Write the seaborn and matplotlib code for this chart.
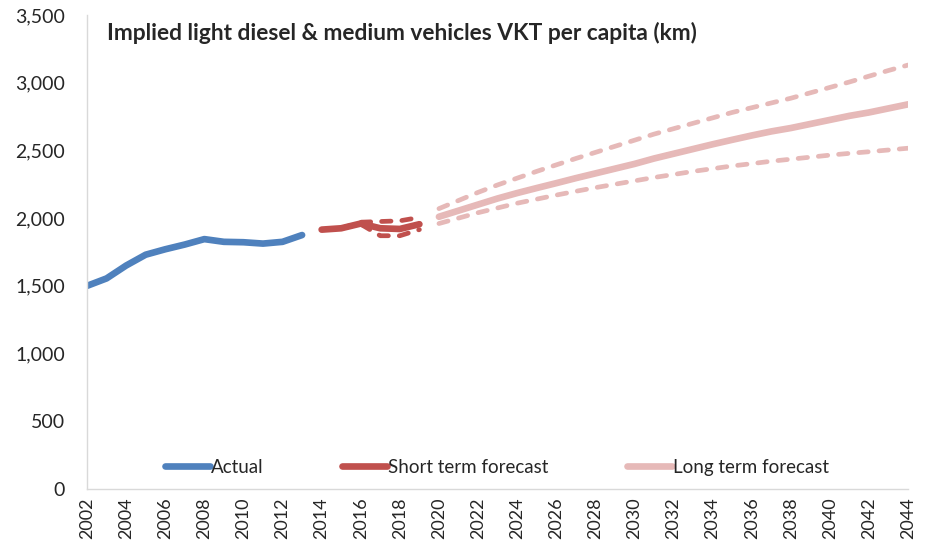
import matplotlib
matplotlib.use("Agg")
import matplotlib.pyplot as plt
import matplotlib.ticker as mticker
import seaborn as sns
import pandas as pd

# data
actual_years = list(range(2002, 2014))
actual_vkt = [1500, 1555, 1650, 1730, 1770, 1805, 1845, 1825, 1822, 1812, 1825, 1875]

short_years = list(range(2014, 2020))
short_mid = [1915, 1925, 1960, 1925, 1920, 1955]
short_high = [1915, 1925, 1970, 1975, 1980, 2005]
short_low = [1915, 1925, 1955, 1870, 1870, 1915]

long_years = list(range(2020, 2045))
long_mid = [2010, 2055, 2100, 2145, 2185, 2222, 2258, 2295, 2330, 2365, 2400, 2440, 2475,
            2510, 2545, 2578, 2610, 2640, 2665, 2695, 2725, 2755, 2780, 2810, 2840]
long_high = [2070, 2130, 2190, 2245, 2295, 2345, 2393, 2440, 2485, 2530, 2575, 2620, 2660,
             2700, 2740, 2780, 2815, 2850, 2885, 2925, 2965, 3005, 3048, 3090, 3130]
long_low = [1960, 2000, 2040, 2075, 2110, 2140, 2170, 2198, 2225, 2250, 2275, 2300, 2322,
            2345, 2365, 2385, 2402, 2420, 2435, 2450, 2465, 2478, 2490, 2503, 2516]

tick_years = list(range(2002, 2045, 2))

BLUE = "#4F81BD"
RED = "#C0504D"
PINK = "#E6B9B8"

sns.set_style("white")
plt.rcParams["font.family"] = ["Lato", "DejaVu Sans"]

fig = plt.figure(figsize=(9.46, 5.52), dpi=100)
ax = fig.add_axes([0.092, 0.114, 0.868, 0.859])

dash = (0, (2.0, 2.3))
solid_lw = 4.8
dash_lw = 3.4

sns.lineplot(x=actual_years, y=actual_vkt, color=BLUE, linewidth=solid_lw,
             solid_capstyle="round", label="Actual", ax=ax)

sns.lineplot(x=short_years, y=short_high, color=RED, linewidth=dash_lw,
             linestyle=dash, dash_capstyle="round", ax=ax)
sns.lineplot(x=short_years, y=short_low, color=RED, linewidth=dash_lw,
             linestyle=dash, dash_capstyle="round", ax=ax)
sns.lineplot(x=short_years, y=short_mid, color=RED, linewidth=solid_lw,
             solid_capstyle="round", label="Short term forecast", ax=ax)

sns.lineplot(x=long_years, y=long_high, color=PINK, linewidth=dash_lw,
             linestyle=dash, dash_capstyle="round", ax=ax)
sns.lineplot(x=long_years, y=long_low, color=PINK, linewidth=dash_lw,
             linestyle=dash, dash_capstyle="round", ax=ax)
sns.lineplot(x=long_years, y=long_mid, color=PINK, linewidth=solid_lw,
             solid_capstyle="round", label="Long term forecast", ax=ax)

ax.set_xlim(2002, 2044)
ax.set_ylim(0, 3500)
ax.set_xticks(tick_years)
ax.set_xticklabels([str(y) for y in tick_years], rotation=90, fontsize=13)
ax.yaxis.set_major_locator(mticker.MultipleLocator(500))
ax.yaxis.set_major_formatter(mticker.FuncFormatter(lambda v, p: f"{int(v):,}"))
ax.tick_params(axis="y", labelsize=14, length=0, pad=16)
ax.tick_params(axis="x", length=0, pad=6)
ax.set_xlabel("")
ax.set_ylabel("")

for side in ["top", "right"]:
    ax.spines[side].set_visible(False)
for side in ["left", "bottom"]:
    ax.spines[side].set_color("#D9D9D9")
    ax.spines[side].set_linewidth(1)

ax.text(0.024, 0.985, "Implied light diesel & medium vehicles VKT per capita (km)",
        transform=ax.transAxes, ha="left", va="top", fontsize=16.4, fontweight="bold")

ax.legend(loc="center", bbox_to_anchor=(0.499, 0.046), ncol=3, frameon=False,
          fontsize=13.5, handlelength=2.4, handletextpad=0.05, columnspacing=4.2)

fig.savefig("out.png", dpi=100)
